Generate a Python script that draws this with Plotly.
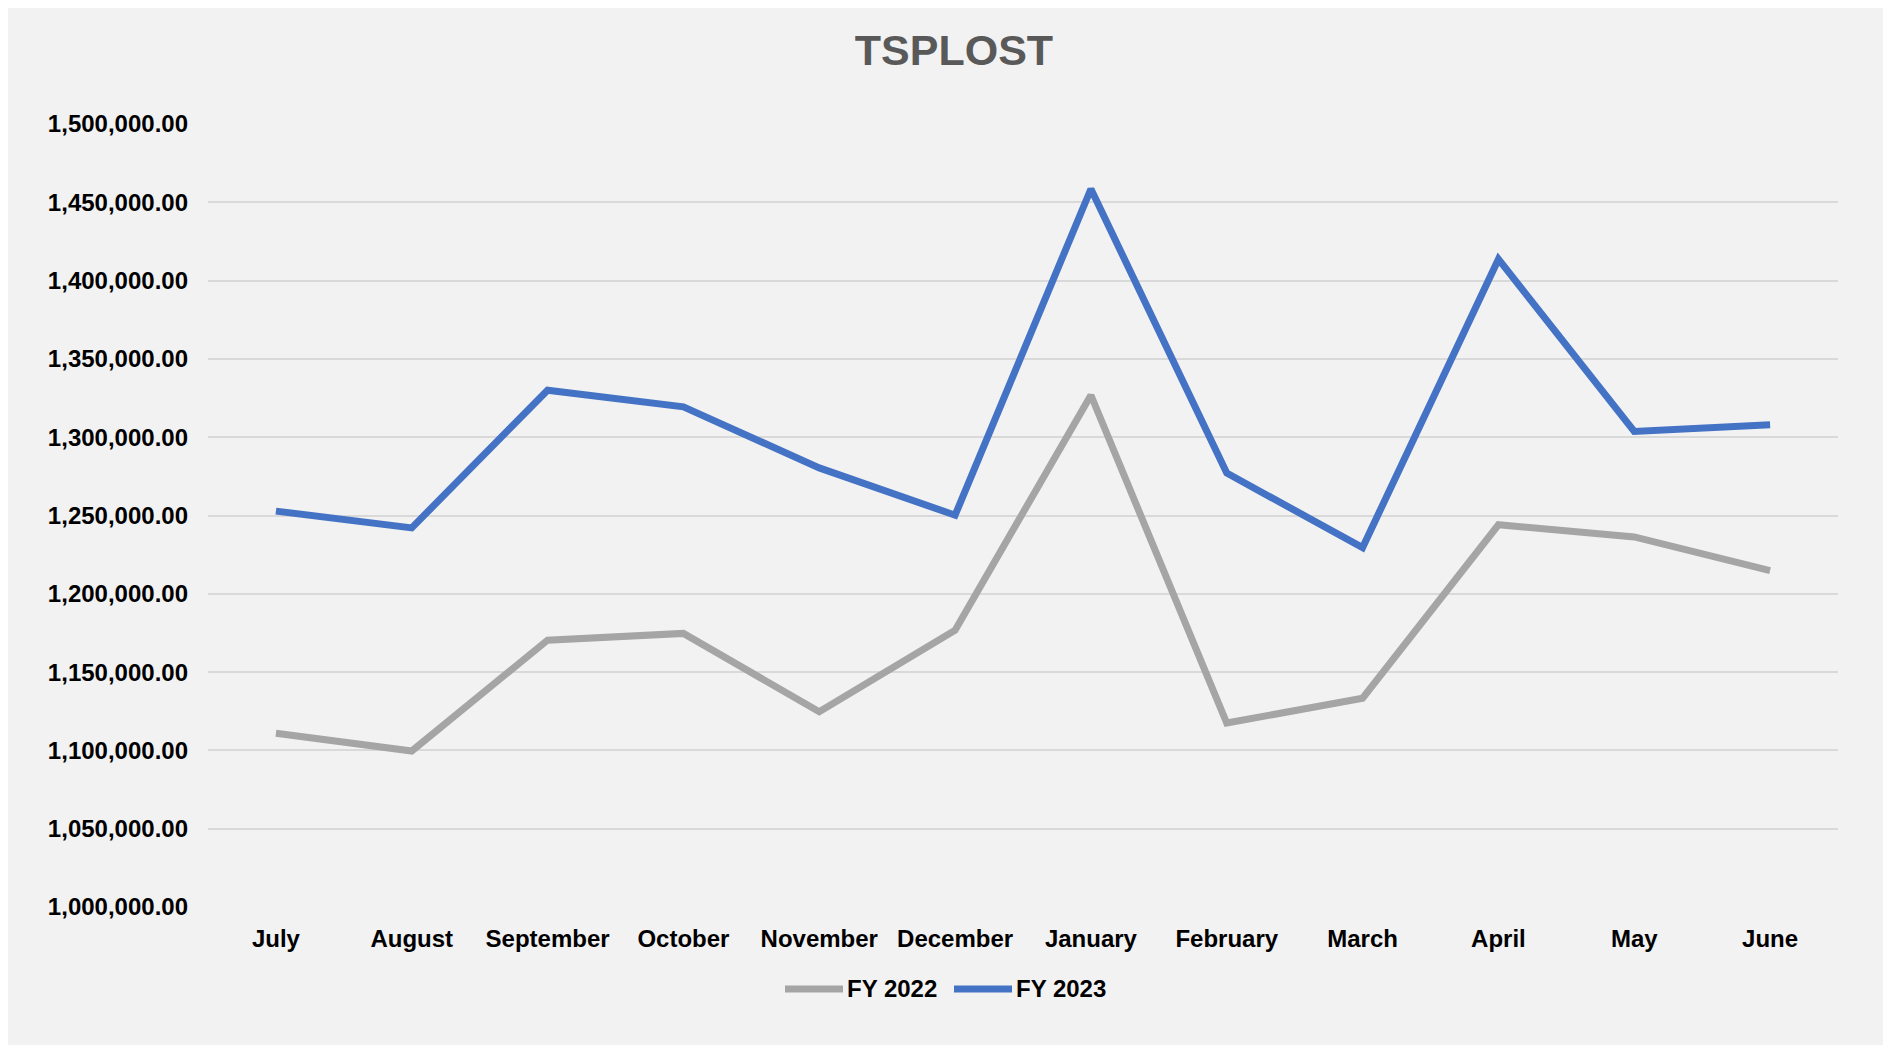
import plotly.graph_objects as go

months = ["July", "August", "September", "October", "November", "December",
          "January", "February", "March", "April", "May", "June"]

fy2022 = [1110900, 1099600, 1170400, 1174700, 1124700, 1176800,
          1326800, 1117500, 1133300, 1244100, 1236300, 1214800]

fy2023 = [1252800, 1242100, 1330000, 1319400, 1280400, 1250200,
          1458500, 1277100, 1229500, 1413700, 1303700, 1308000]

series_names = ["FY 2022", "FY 2023"]
series_colors = ["#a5a5a5", "#4472c4"]

y_ticks = [1000000 + 50000 * i for i in range(11)]

# the page body adds an 8px margin, so the figure is a bit smaller than the window
W, H = 1883, 1037
L, R, T, B = 200, 53, 116, 138
pw = W - L - R
ph = H - T - B


def px(x):  # figure pixel -> paper x
    return (x - L) / pw


def py(y):  # figure pixel (from top) -> paper y
    return (H - B - y) / ph


fig = go.Figure()
for name, vals, col in zip(series_names, [fy2022, fy2023], series_colors):
    fig.add_trace(go.Scatter(x=months, y=vals, name=name, mode="lines",
                             line=dict(color=col, width=7)))

# legend drawn by hand so the sample lines are as long as in the original
shapes, annos = [], []
leg_x = [777, 946]
for name, col, x0 in zip(series_names, series_colors, leg_x):
    shapes.append(dict(type="line", xref="paper", yref="paper",
                       x0=px(x0), x1=px(x0 + 58), y0=py(981), y1=py(981),
                       line=dict(color=col, width=7)))
    annos.append(dict(text=name, xref="paper", yref="paper", x=px(x0 + 60), y=py(981),
                      xanchor="left", yanchor="middle", showarrow=False,
                      font=dict(size=24, weight="bold", color="#000000")))

fig.update_layout(
    width=W, height=H,
    margin=dict(l=L, r=R, t=T, b=B),
    paper_bgcolor="#f2f2f2",
    plot_bgcolor="#f2f2f2",
    font=dict(family="Liberation Sans, Arial, sans-serif", color="#000000"),
    title=dict(text="TSPLOST", x=946 / W, xref="container", xanchor="center",
               y=1 - 41.5 / H, yref="container", yanchor="middle",
               font=dict(size=43, color="#595959", weight="bold")),
    showlegend=False,
    xaxis=dict(range=[-0.5, 11.5], showgrid=False, showline=False, zeroline=False,
               tickfont=dict(size=24, weight="bold"), ticks="",
               ticklabelstandoff=15),
    yaxis=dict(range=[1000000, 1500000], tickvals=y_ticks, tickformat=",.2f",
               showgrid=True, gridcolor="#d9d9d9", gridwidth=2,
               zeroline=False, showline=False, ticks="",
               tickfont=dict(size=24, weight="bold"), ticklabelstandoff=19),
    shapes=shapes,
    annotations=annos,
)

fig.write_html("out.html")
